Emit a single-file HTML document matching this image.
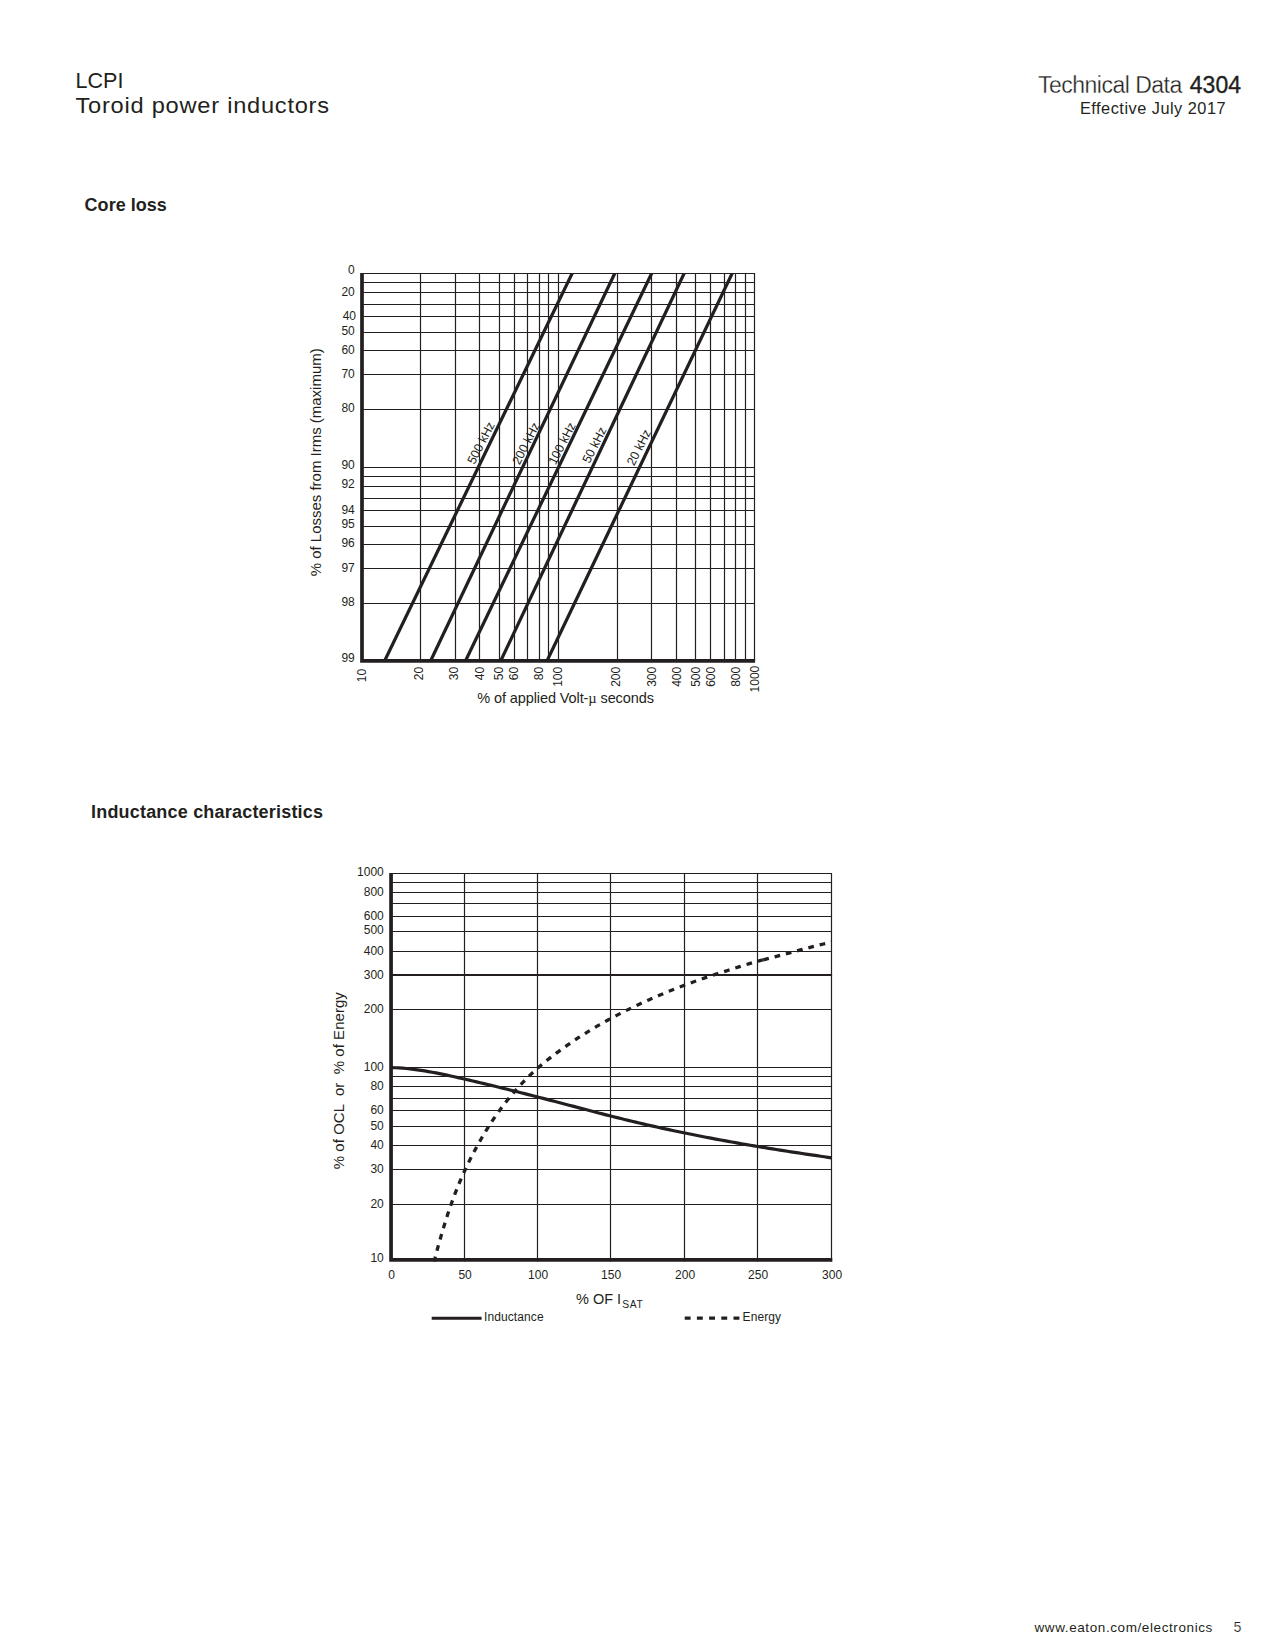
<!DOCTYPE html>
<html lang="en"><head><meta charset="utf-8"><title>LCPI Toroid power inductors - Technical Data 4304</title>
<style>
html,body{margin:0;padding:0;background:#fff;}
body{width:1275px;height:1650px;overflow:hidden;position:relative;}
svg{position:absolute;left:0;top:0;display:block;}
text{font-family:"Liberation Sans",Arial,Helvetica,sans-serif;fill:#231f20;}
.b{font-weight:bold;}
.lt{stroke:#fff;stroke-width:0.32px;paint-order:fill stroke;}
.mu{font-family:"Liberation Serif","DejaVu Serif",serif;}
</style></head><body>
<svg width="1275" height="1650" viewBox="0 0 1275 1650">

<text font-size="22.3" transform="translate(75.6 87.5) scale(0.965 1)">LCPI</text>
<text font-size="22.3" transform="translate(75.5 113.4) scale(1.06 1)" textLength="239.2" lengthAdjust="spacing">Toroid power inductors</text>
<text x="1037.9" y="92.6" font-size="23"><tspan class="lt" textLength="144.4" lengthAdjust="spacing">Technical Data</tspan><tspan x="1189.8" textLength="51.2" lengthAdjust="spacing" stroke="#231f20" stroke-width="0.35">4304</tspan></text>
<text font-size="15.7" transform="translate(1080.0 113.6) scale(1.04 1)" textLength="140" lengthAdjust="spacing">Effective July 2017</text>
<text x="84.6" y="210.6" font-size="18" class="b" textLength="82.2" lengthAdjust="spacing" >Core loss</text>
<text x="91.0" y="817.8" font-size="18" class="b" textLength="232" lengthAdjust="spacing" >Inductance characteristics</text>
<text x="1034.5" y="1632.2" font-size="13.5" textLength="177.8" lengthAdjust="spacing" >www.eaton.com/electronics</text>
<text x="1233.6" y="1632.4" font-size="14.2" stroke="#fff" stroke-width="0.2" paint-order="fill stroke">5</text>
<path d="M362.0 273.5H755.1M362.0 282.5H755.1M362.0 292.5H755.1M362.0 304.5H755.1M362.0 316.5H755.1M362.0 332.5H755.1M362.0 350.5H755.1M362.0 374.5H755.1M362.0 409.5H755.1M362.0 467.5H755.1M362.0 476.5H755.1M362.0 486.5H755.1M362.0 498.5H755.1M362.0 510.5H755.1M362.0 526.5H755.1M362.0 544.5H755.1M362.0 568.5H755.1M362.0 603.5H755.1M420.5 272.9V661.3M455.5 272.9V661.3M479.5 272.9V661.3M499.5 272.9V661.3M514.5 272.9V661.3M527.5 272.9V661.3M539.5 272.9V661.3M548.5 272.9V661.3M558.5 272.9V661.3M617.5 272.9V661.3M651.5 272.9V661.3M676.5 272.9V661.3M695.5 272.9V661.3M710.5 272.9V661.3M724.5 272.9V661.3M735.5 272.9V661.3M745.5 272.9V661.3M754.5 272.9V661.3" stroke="#231f20" stroke-width="1.2" fill="none"/>
<clipPath id="c1"><rect x="362.0" y="272.9" width="393.5" height="386.6"/></clipPath>
<g stroke="#231f20" stroke-width="3.25" clip-path="url(#c1)">
<line x1="380.66" y1="669" x2="576.94" y2="263.50"/>
<line x1="426.75" y1="669" x2="619.45" y2="263.50"/>
<line x1="461.60" y1="669" x2="656.40" y2="263.50"/>
<line x1="496.87" y1="669" x2="688.83" y2="263.50"/>
<line x1="543.12" y1="669" x2="736.88" y2="263.50"/>
</g>
<path d="M362 272.9V660.85H755.1" fill="none" stroke="#231f20" stroke-width="3.7" stroke-linejoin="miter"/>
<text x="354.8" y="274.3" font-size="12" text-anchor="end" >0</text>
<text x="354.8" y="296.3" font-size="12" text-anchor="end" >20</text>
<text x="356.0" y="320.3" font-size="12" text-anchor="end" >40</text>
<text x="354.8" y="335.3" font-size="12" text-anchor="end" >50</text>
<text x="354.8" y="354.3" font-size="12" text-anchor="end" >60</text>
<text x="354.8" y="378.3" font-size="12" text-anchor="end" >70</text>
<text x="354.8" y="412.3" font-size="12" text-anchor="end" >80</text>
<text x="354.8" y="469.3" font-size="12" text-anchor="end" >90</text>
<text x="354.8" y="488.3" font-size="12" text-anchor="end" >92</text>
<text x="354.8" y="514.3" font-size="12" text-anchor="end" >94</text>
<text x="354.8" y="528.3" font-size="12" text-anchor="end" >95</text>
<text x="354.8" y="547.3" font-size="12" text-anchor="end" >96</text>
<text x="354.8" y="572.3" font-size="12" text-anchor="end" >97</text>
<text x="354.8" y="606.3" font-size="12" text-anchor="end" >98</text>
<text x="354.8" y="662.3" font-size="12" text-anchor="end" >99</text>
<text font-size="12" text-anchor="end" transform="translate(366.30 668.8) rotate(-90)">10</text>
<text font-size="12" text-anchor="end" transform="translate(423.10 666.8) rotate(-90)">20</text>
<text font-size="12" text-anchor="end" transform="translate(457.80 666.8) rotate(-90)">30</text>
<text font-size="12" text-anchor="end" transform="translate(483.80 666.8) rotate(-90)">40</text>
<text font-size="12" text-anchor="end" transform="translate(502.60 666.8) rotate(-90)">50</text>
<text font-size="12" text-anchor="end" transform="translate(517.60 666.8) rotate(-90)">60</text>
<text font-size="12" text-anchor="end" transform="translate(542.60 666.8) rotate(-90)">80</text>
<text font-size="12" text-anchor="end" transform="translate(562.40 666.8) rotate(-90)">100</text>
<text font-size="12" text-anchor="end" transform="translate(620.40 666.8) rotate(-90)">200</text>
<text font-size="12" text-anchor="end" transform="translate(655.80 666.8) rotate(-90)">300</text>
<text font-size="12" text-anchor="end" transform="translate(680.80 666.8) rotate(-90)">400</text>
<text font-size="12" text-anchor="end" transform="translate(699.80 666.8) rotate(-90)">500</text>
<text font-size="12" text-anchor="end" transform="translate(714.80 666.8) rotate(-90)">600</text>
<text font-size="12" text-anchor="end" transform="translate(739.80 666.8) rotate(-90)">800</text>
<text font-size="12" text-anchor="end" transform="translate(758.80 665.7) rotate(-90)">1000</text>
<text font-size="15" transform="translate(321.2 576.3) rotate(-90)" textLength="228" lengthAdjust="spacing">% of Losses from Irms (maximum)</text>
<text x="477.3" y="703" font-size="14.5" textLength="176.6" lengthAdjust="spacing">% of applied Volt-<tspan class="mu">µ</tspan> seconds</text>
<text font-size="12.6" transform="translate(474.5 465.0) rotate(-63)" textLength="45.3" lengthAdjust="spacingAndGlyphs">500 kHz</text>
<text font-size="12.6" transform="translate(519.5 465.5) rotate(-63)" textLength="45.3" lengthAdjust="spacingAndGlyphs">200 kHz</text>
<text font-size="12.6" transform="translate(555.5 465.5) rotate(-63)" textLength="45.3" lengthAdjust="spacingAndGlyphs">100 kHz</text>
<text font-size="12.6" transform="translate(589.5 464) rotate(-63)" textLength="38.3" lengthAdjust="spacingAndGlyphs">50 kHz</text>
<text font-size="12.6" transform="translate(634.0 466.5) rotate(-63)" textLength="38.3" lengthAdjust="spacingAndGlyphs">20 kHz</text>
<path d="M391.3 873.5H832.1M391.3 882.5H832.1M391.3 892.5H832.1M391.3 903.5H832.1M391.3 916.5H832.1M391.3 931.5H832.1M391.3 951.5H832.1M391.3 1009.5H832.1M391.3 1067.5H832.1M391.3 1076.5H832.1M391.3 1086.5H832.1M391.3 1098.5H832.1M391.3 1110.5H832.1M391.3 1126.5H832.1M391.3 1145.5H832.1M391.3 1169.5H832.1M391.3 1204.5H832.1M464.5 872.9V1261.5M537.5 872.9V1261.5M610.5 872.9V1261.5M684.5 872.9V1261.5M757.5 872.9V1261.5M831.5 872.9V1261.5" stroke="#231f20" stroke-width="1.2" fill="none"/>
<path d="M391.3 975H832.1" stroke="#231f20" stroke-width="2" fill="none"/>
<path d="M391.50 1067.61L395.20 1067.73L398.90 1067.93L402.60 1068.19L406.30 1068.51L410.00 1068.89L413.69 1069.33L417.39 1069.82L421.09 1070.35L424.79 1070.93L428.49 1071.56L432.19 1072.22L435.89 1072.91L439.59 1073.64L443.29 1074.39L446.99 1075.16L450.69 1075.96L454.39 1076.77L458.08 1077.60L461.78 1078.44L465.48 1079.28L469.18 1080.13L472.88 1080.99L476.58 1081.86L480.28 1082.73L483.98 1083.61L487.68 1084.49L491.38 1085.39L495.08 1086.28L498.78 1087.19L502.47 1088.10L506.17 1089.01L509.87 1089.93L513.57 1090.86L517.27 1091.78L520.97 1092.72L524.67 1093.66L528.37 1094.60L532.07 1095.55L535.77 1096.50L539.47 1097.45L543.17 1098.41L546.86 1099.37L550.56 1100.33L554.26 1101.30L557.96 1102.26L561.66 1103.23L565.36 1104.21L569.06 1105.18L572.76 1106.15L576.46 1107.13L580.16 1108.10L583.86 1109.07L587.56 1110.04L591.25 1111.01L594.95 1111.97L598.65 1112.93L602.35 1113.88L606.05 1114.83L609.75 1115.78L613.45 1116.71L617.15 1117.64L620.85 1118.56L624.55 1119.48L628.25 1120.38L631.95 1121.27L635.64 1122.16L639.34 1123.03L643.04 1123.89L646.74 1124.75L650.44 1125.59L654.14 1126.43L657.84 1127.26L661.54 1128.07L665.24 1128.88L668.94 1129.68L672.64 1130.47L676.34 1131.26L680.03 1132.03L683.73 1132.79L687.43 1133.55L691.13 1134.30L694.83 1135.04L698.53 1135.77L702.23 1136.50L705.93 1137.21L709.63 1137.92L713.33 1138.62L717.03 1139.31L720.73 1140.00L724.42 1140.68L728.12 1141.35L731.82 1142.01L735.52 1142.67L739.22 1143.32L742.92 1143.96L746.62 1144.60L750.32 1145.23L754.02 1145.86L757.72 1146.48L761.42 1147.09L765.12 1147.70L768.81 1148.30L772.51 1148.90L776.21 1149.49L779.91 1150.08L783.61 1150.66L787.31 1151.24L791.01 1151.81L794.71 1152.38L798.41 1152.94L802.11 1153.50L805.81 1154.06L809.51 1154.61L813.20 1155.16L816.90 1155.70L820.60 1156.24L824.30 1156.78L828.00 1157.31L831.70 1157.85" stroke="#231f20" stroke-width="3.2" fill="none" stroke-linejoin="round"/>
<path d="M434.15 1261.49L434.82 1258.84L435.51 1256.18L436.20 1253.53L436.91 1250.88L437.63 1248.23L438.35 1245.59L439.09 1242.95L439.83 1240.30L440.59 1237.67L441.35 1235.03L442.12 1232.40L442.90 1229.77L443.70 1227.15L444.50 1224.53L445.31 1221.91L446.13 1219.30L446.97 1216.69L447.82 1214.09L448.68 1211.49L449.56 1208.89L450.45 1206.30L451.35 1203.72L452.27 1201.14L453.21 1198.57L454.17 1196.00L455.14 1193.44L456.12 1190.89L457.13 1188.34L458.15 1185.80L459.19 1183.26L460.25 1180.74L461.33 1178.22L462.43 1175.70L463.55 1173.20L464.68 1170.70L465.84 1168.21L467.01 1165.73L468.21 1163.26L469.42 1160.79L470.66 1158.34L471.90 1155.89L473.17 1153.46L474.45 1151.03L475.75 1148.61L477.06 1146.20L478.39 1143.80L479.74 1141.42L481.10 1139.04L482.48 1136.67L483.87 1134.32L485.28 1131.97L486.71 1129.64L488.15 1127.31L489.62 1125.01L491.10 1122.71L492.61 1120.42L494.13 1118.15L495.67 1115.90L497.24 1113.65L498.83 1111.42L500.44 1109.21L502.07 1107.01L503.72 1104.83L505.40 1102.66L507.10 1100.51L508.82 1098.37L510.57 1096.25L512.33 1094.15L514.12 1092.06L515.93 1089.99L517.76 1087.95L519.61 1085.91L521.49 1083.90L523.38 1081.91L525.29 1079.94L527.22 1077.98L529.18 1076.05L531.15 1074.14L533.15 1072.25L535.16 1070.38L537.20 1068.54L539.25 1066.73L541.32 1064.96L543.41 1063.22L545.52 1061.50L547.65 1059.82L549.79 1058.14L551.95 1056.49L554.12 1054.83L556.30 1053.19L558.50 1051.56L560.71 1049.95L562.94 1048.34L565.17 1046.74L567.42 1045.16L569.68 1043.59L571.95 1042.04L574.23 1040.49L576.52 1038.97L578.81 1037.46L581.12 1035.96L583.44 1034.49L585.76 1033.02L588.09 1031.58L590.43 1030.15L592.78 1028.73L595.13 1027.33L597.50 1025.94L599.87 1024.57L602.25 1023.21L604.64 1021.87L607.03 1020.54L609.43 1019.23L611.84 1017.93L614.26 1016.64L616.68 1015.36L619.11 1014.10L621.54 1012.85L623.98 1011.61L626.43 1010.39L628.89 1009.18L631.35 1007.98L633.82 1006.79L636.29 1005.61L638.77 1004.44L641.26 1003.29L643.75 1002.15L646.24 1001.01L648.74 999.89L651.25 998.78L653.76 997.68L656.28 996.59L658.80 995.51L661.33 994.45L663.86 993.39L666.40 992.34L668.94 991.31L671.48 990.28L674.03 989.27L676.58 988.26L679.14 987.27L681.70 986.29L684.27 985.32L686.83 984.35L689.41 983.40L691.98 982.46L694.56 981.53L697.14 980.61L699.73 979.70L702.31 978.80L704.90 977.91L707.50 977.03L710.09 976.16L712.69 975.29L715.29 974.44L717.90 973.59L720.50 972.75L723.11 971.91L725.72 971.07L728.34 970.24L730.95 969.41L733.57 968.59L736.19 967.76L738.81 966.93L741.43 966.11L744.06 965.29L746.69 964.48L749.32 963.68L751.95 962.90L754.58 962.14L757.22 961.41L759.85 960.71L762.49 960.02L763.34 959.81" stroke="#231f20" stroke-width="3.3" fill="none" stroke-dasharray="5.7 6.05" stroke-dashoffset="0.65" stroke-linejoin="round"/>
<path d="M763.34 959.81L765.13 959.35L767.77 958.68L770.41 957.99L773.06 957.31L775.70 956.61L778.35 955.91L781.00 955.20L783.65 954.49L786.30 953.77L788.95 953.05L791.60 952.33L794.25 951.61L796.91 950.89L799.56 950.16L802.22 949.44L804.88 948.72L807.53 948.00L810.19 947.30L812.85 946.61L815.51 945.93L818.17 945.27L820.83 944.63L823.49 944.01L826.15 943.43L828.81 942.87L831.47 942.34" stroke="#231f20" stroke-width="3.3" fill="none" stroke-dasharray="5.7 5.95" stroke-linejoin="round"/>
<path d="M391.05 872.9V1259.95H832.3" fill="none" stroke="#231f20" stroke-width="3.7"/>
<text x="383.8" y="876.1999999999999" font-size="12" text-anchor="end" >1000</text>
<text x="383.8" y="896.3" font-size="12" text-anchor="end" >800</text>
<text x="383.8" y="920.3" font-size="12" text-anchor="end" >600</text>
<text x="383.8" y="934.1999999999999" font-size="12" text-anchor="end" >500</text>
<text x="383.8" y="955.3" font-size="12" text-anchor="end" >400</text>
<text x="383.8" y="978.8" font-size="12" text-anchor="end" >300</text>
<text x="383.8" y="1013.3" font-size="12" text-anchor="end" >200</text>
<text x="383.8" y="1071.3" font-size="12" text-anchor="end" >100</text>
<text x="383.8" y="1090.3" font-size="12" text-anchor="end" >80</text>
<text x="383.8" y="1114.3" font-size="12" text-anchor="end" >60</text>
<text x="383.8" y="1130.3" font-size="12" text-anchor="end" >50</text>
<text x="383.8" y="1149.3" font-size="12" text-anchor="end" >40</text>
<text x="383.8" y="1173.3" font-size="12" text-anchor="end" >30</text>
<text x="383.8" y="1208.3" font-size="12" text-anchor="end" >20</text>
<text x="383.8" y="1262.3999999999999" font-size="12" text-anchor="end" >10</text>
<text x="391.6" y="1278.7" font-size="12" text-anchor="middle" >0</text>
<text x="465.1" y="1278.7" font-size="12" text-anchor="middle" >50</text>
<text x="538.1" y="1278.7" font-size="12" text-anchor="middle" >100</text>
<text x="611.1" y="1278.7" font-size="12" text-anchor="middle" >150</text>
<text x="685.1" y="1278.7" font-size="12" text-anchor="middle" >200</text>
<text x="758.1" y="1278.7" font-size="12" text-anchor="middle" >250</text>
<text x="832.1" y="1278.7" font-size="12" text-anchor="middle" >300</text>
<text font-size="15" transform="translate(343.6 1169.2) rotate(-90)" xml:space="preserve" style="white-space:pre" textLength="177" lengthAdjust="spacing">% of OCL  or  % of Energy</text>
<text x="576" y="1304" font-size="14.5">% OF I<tspan font-size="10.3" dy="3.8" dx="1" letter-spacing="0.7">SAT</tspan></text>
<path d="M431.7 1318.3H481.6" stroke="#231f20" stroke-width="3.1"/>
<path d="M684.7 1318.2H740" stroke="#231f20" stroke-width="3.2" stroke-dasharray="5.9 6.3"/>
<text x="484.0" y="1320.7" font-size="12" textLength="59.6" lengthAdjust="spacing" >Inductance</text>
<text x="742.6" y="1320.7" font-size="12" textLength="38.4" lengthAdjust="spacing" >Energy</text>
</svg></body></html>
